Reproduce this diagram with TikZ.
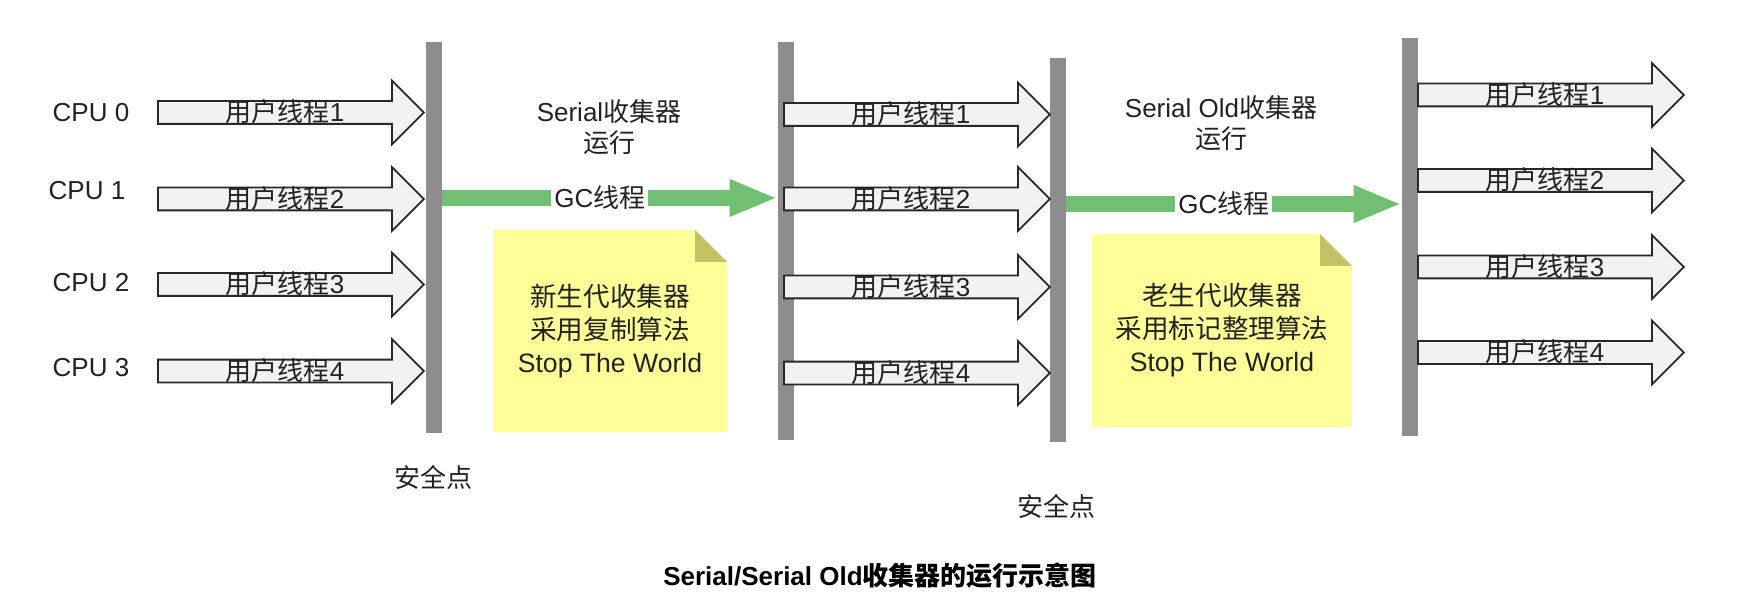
\documentclass[tikz,border=0pt]{standalone}
\usepackage{fontspec}
\setmainfont{Liberation Sans}
\newfontfamily\cjk{Noto Sans CJK SC}
\usetikzlibrary{arrows.meta,shapes.arrows}
\definecolor{barc}{RGB}{141,141,141}
\definecolor{edgec}{RGB}{40,40,40}
\definecolor{threadbg}{RGB}{242,242,242}
\definecolor{gcgreen}{RGB}{112,191,115}
\definecolor{notebg}{RGB}{255,255,153}
\definecolor{foldc}{RGB}{194,194,102}
\definecolor{textc}{RGB}{34,34,34}

\begin{document}
\begin{tikzpicture}[
    x=0.5pt, y=-0.5pt,
    every node/.style={text=textc},
    txt/.style={font=\fontsize{13pt}{15.5pt}\selectfont, align=center},
    bar/.style={fill=barc, minimum width=8pt, inner sep=0pt},
    thread/.style={single arrow, draw=edgec, fill=threadbg, line width=0.9pt,
                   single arrow head extend=10.25pt, single arrow tip angle=90,
                   minimum height=133pt, inner xsep=0pt, inner ysep=0pt,
                   text height=10pt, text depth=0.5pt, anchor=tail,
                   font=\fontsize{13pt}{15pt}\selectfont},
    gcflow/.style={-{Triangle[length=24pt,width=17pt]}, draw=gcgreen, line width=8pt},
    gctext/.style={pos=0.47, fill=white, inner xsep=1.5pt, inner ysep=1pt,
                   font=\fontsize{13pt}{15pt}\selectfont},
    note/.style={fill=notebg, align=center, inner sep=0pt,
                 font=\fontsize{13.3pt}{16.5pt}\selectfont,
                 path picture={
                   \fill[white] ([xshift=-16pt]path picture bounding box.north east)
                     -- (path picture bounding box.north east)
                     -- ([yshift=-16pt]path picture bounding box.north east) -- cycle;
                   \fill[foldc] ([xshift=-16pt]path picture bounding box.north east)
                     -- ([xshift=-16pt,yshift=-16pt]path picture bounding box.north east)
                     -- ([yshift=-16pt]path picture bounding box.north east) -- cycle;
                 }},
    heading/.style={font=\bfseries\fontsize{13pt}{15pt}\selectfont, text=black},
]
    \useasboundingbox (0,0) rectangle (1754,614);

    \node[txt] (cpu0) at (91,113) {CPU 0};
    \node[txt] (cpu1) at (87,191) {CPU 1};
    \node[txt] (cpu2) at (91,283) {CPU 2};
    \node[txt] (cpu3) at (91,368) {CPU 3};

    \node[bar, minimum height=195.5pt] (sp1) at (434,237.5) {};
    \node[bar, minimum height=199pt] (sp2) at (786,241) {};
    \node[bar, minimum height=192pt] (sp3) at (1058,250) {};
    \node[bar, minimum height=199pt] (sp4) at (1410,237) {};

    \foreach \i/\y in {1/112.5,2/199,3/284.5,4/371}
        \node[thread] (a\i) at (157,\y) {{\cjk 用户线程}\i};
    \foreach \i/\y in {1/114.5,2/199,3/287,4/373}
        \node[thread] (b\i) at (783,\y) {{\cjk 用户线程}\i};
    \foreach \i/\y in {1/95,2/180.5,3/267,4/352.5}
        \node[thread] (c\i) at (1417,\y) {{\cjk 用户线程}\i};

    \coordinate (gc1) at (0,198);
    \coordinate (gc2) at (0,204);
    \draw[gcflow] (sp1.east |- gc1) -- node[gctext] {GC{\cjk 线程}} (sp2.west |- gc1);
    \draw[gcflow] (sp3.east |- gc2) -- node[gctext] {GC{\cjk 线程}} (sp4.west |- gc2);

    \node[txt] (serial) at (609,127) {Serial{\cjk 收集器}\\{\cjk 运行}};
    \node[txt] (serialold) at (1221,123) {Serial Old{\cjk 收集器}\\{\cjk 运行}};

    \node[note, minimum width=117pt, minimum height=101pt] (youngnote) at (610,331)
        {{\cjk 新生代收集器}\\{\cjk 采用复制算法}\\Stop The World};
    \node[note, minimum width=130pt, minimum height=96.5pt] (oldnote) at (1222,330.5)
        {{\cjk 老生代收集器}\\{\cjk 采用标记整理算法}\\Stop The World};

    \node[txt] (safe1) at (433,477) {\cjk 安全点};
    \node[txt] (safe2) at (1056,506) {\cjk 安全点};

    \node[heading] (title) at (880,576) {Serial/Serial Old{\cjk 收集器的运行示意图}};
\end{tikzpicture}
\end{document}
